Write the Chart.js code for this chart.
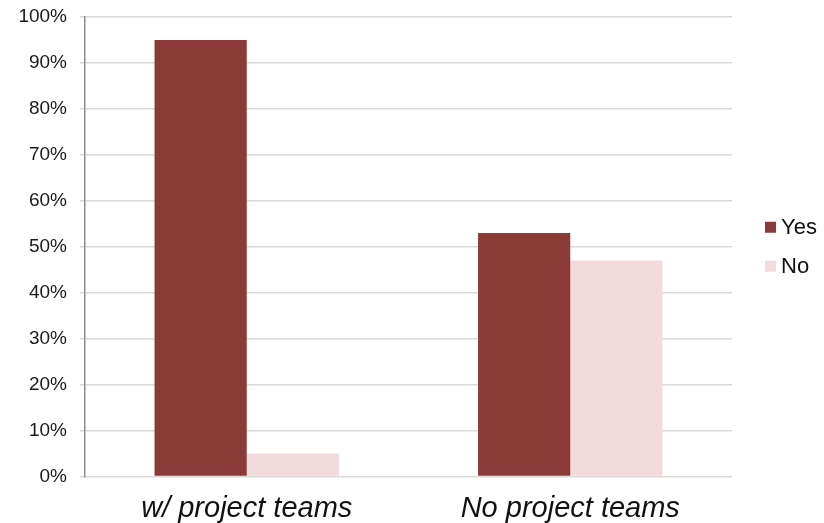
<!DOCTYPE html>
<html lang="en">

<head>
	<meta charset="utf-8">
	<title>Project teams survey</title>
	<script src="https://cdn.jsdelivr.net/npm/chart.js@4.4.1/dist/chart.umd.min.js"></script>
	<style>
		html,
		body {
			margin: 0;
			background: #fff;
		}

		#wrap {
			width: 824px;
			height: 523px;
		}
	</style>
</head>

<body>
	<div id="wrap"><canvas id="teamChart"></canvas></div>

	<script>
		var categories = ["w/ project teams", "No project teams"]
		var yesValues = [95, 53]
		var noValues = [5, 47]
		var seriesNames = ["Yes", "No"]
		var seriesColours = ["#8b3a38", "#f2dbda"]

		var fontFamily = "'Liberation Sans', Arial, Helvetica, sans-serif"

		// legend drawn by hand so the swatches sit where we want them
		var sideLegend = {
			id: "sideLegend",
			afterDraw(chart) {
				var ctx = chart.ctx
				var sets = chart.data.datasets
				var x = 765
				var midY = (chart.chartArea.top + chart.chartArea.bottom) / 2
				var step = 39
				var y0 = midY - step * (sets.length - 1) / 2
				ctx.save()
				ctx.font = "22px " + fontFamily
				ctx.textBaseline = "middle"
				for (var i = 0; i < sets.length; i++) {
					var y = y0 + i * step
					ctx.fillStyle = sets[i].backgroundColor
					ctx.fillRect(x, y - 5.5, 11, 11)
					ctx.fillStyle = "#111"
					ctx.fillText(sets[i].label, x + 16, y + 1)
				}
				ctx.restore()
			}
		}

		var teamChart = new Chart("teamChart", {
			type: "bar",
			data: {
				labels: categories,
				datasets: [
					{ label: seriesNames[0], data: yesValues, backgroundColor: seriesColours[0] },
					{ label: seriesNames[1], data: noValues, backgroundColor: seriesColours[1] }
				]
			},
			options: {
				responsive: true,
				maintainAspectRatio: false,
				animation: false,
				datasets: {
					bar: {
						categoryPercentage: 0.57,
						barPercentage: 1.0
					}
				},
				layout: {
					padding: { top: 17, right: 92, left: 0, bottom: 0 }
				},
				plugins: {
					legend: { display: false },
					tooltip: { enabled: false }
				},
				scales: {
					x: {
						grid: { display: false, drawTicks: false },
						border: { display: false },
						ticks: {
							color: "#111",
							padding: 15,
							maxRotation: 0,
							font: { family: fontFamily, size: 29, style: "italic" }
						},
						afterFit: function (s) { s.height = 46.5 }
					},
					y: {
						min: 0,
						max: 100,
						ticks: {
							stepSize: 10,
							color: "#1a1a1a",
							padding: 13,
							font: { family: fontFamily, size: 19 },
							callback: function (v) { return v + "%" }
						},
						grid: {
							color: "#d9d9d9",
							lineWidth: 1.5,
							tickLength: 5
						},
						border: { color: "#8c8c8c", width: 1.5 },
						afterFit: function (s) {
							s.width = 85
							s.paddingTop = 0
							s.paddingBottom = 0
						}
					}
				}
			},
			plugins: [sideLegend]
		});
	</script>
</body>

</html>
